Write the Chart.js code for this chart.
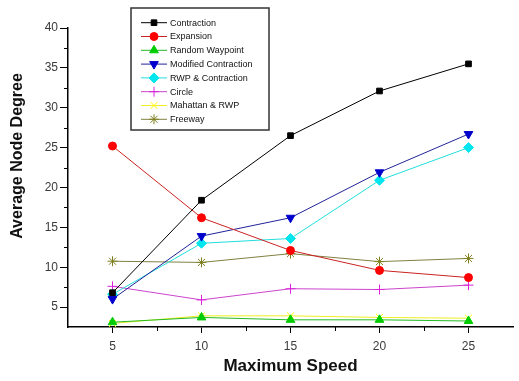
<!DOCTYPE html>
<html><head><meta charset="utf-8">
<script src="https://cdn.jsdelivr.net/npm/chart.js@4"></script>
<style>html,body{margin:0;padding:0;background:#fff}#wrap{width:519px;height:381px}</style>
</head><body><div id="wrap"><canvas id="c" width="519" height="381"></canvas></div>
<script>
const speeds = [5, 10, 15, 20, 25];
const contraction = [6.8, 18.4, 26.5, 32.1, 35.5];
const expansion = [25.2, 16.2, 12.1, 9.6, 8.7];
const randomWaypoint = [3.1, 3.7, 3.4, 3.4, 3.25];
const modifiedContraction = [6.0, 13.9, 16.2, 21.9, 26.7];
const rwpContraction = [6.6, 13.0, 13.6, 20.9, 25.0];
const circle = [7.6, 5.9, 7.3, 7.2, 7.75];
const manhattanRwp = [2.95, 3.9, 3.9, 3.7, 3.6];
const freeway = [10.75, 10.6, 11.7, 10.7, 11.1];
const seriesLabels = ["Contraction","Expansion","Random Waypoint","Modified Contraction","RWP & Contraction","Circle","Mahattan & RWP","Freeway"];

const styles = [
  {c:'#000000', p:'rect', r:4, rot:0},
  {c:'#ff0000', p:'circle', r:4, rot:0},
  {c:'#00cc00', p:'triangle', r:5, rot:0},
  {c:'#0000cc', p:'triangle', r:5, rot:180},
  {c:'#00e5ee', p:'rectRot', r:5, rot:0},
  {c:'#dd22dd', p:'cross', r:5, rot:0},
  {c:'#ffff00', p:'crossRot', r:5, rot:0},
  {c:'#808020', p:'star', r:5, rot:0}
];
const lineColors = ['#000000','#cc2222','#22bb22','#222299','#22dddd','#cc44cc','#eeee22','#808040'];
const allSeries = [contraction, expansion, randomWaypoint, modifiedContraction, rwpContraction, circle, manhattanRwp, freeway];

const datasets = allSeries.map((vals, i) => ({
  label: seriesLabels[i],
  data: speeds.map((s, j) => ({x: s, y: vals[j]})),
  borderColor: lineColors[i],
  backgroundColor: styles[i].c,
  pointBorderColor: styles[i].c,
  pointBackgroundColor: styles[i].c,
  pointStyle: styles[i].p,
  pointRadius: styles[i].r,
  pointRotation: styles[i].rot,
  pointBorderWidth: 1,
  borderWidth: 1,
  tension: 0,
  showLine: true
}));

const isMajor = v => Math.abs(v % 5) < 1e-9;

const legendPlugin = {
  id: 'boxLegend',
  afterDraw(chart) {
    const ctx = chart.ctx;
    const x0 = 131, y0 = 8, w = 138, h = 122;
    ctx.save();
    ctx.fillStyle = '#fff';
    ctx.fillRect(x0, y0, w, h);
    ctx.strokeStyle = '#333';
    ctx.lineWidth = 1.5;
    ctx.strokeRect(x0, y0, w, h);
    ctx.font = '9px "Liberation Sans", Arial, sans-serif';
    ctx.textBaseline = 'middle';
    chart.data.datasets.forEach((ds, i) => {
      const yy = 22.7 + i * 13.8;
      ctx.strokeStyle = ds.borderColor;
      ctx.lineWidth = 1;
      ctx.beginPath(); ctx.moveTo(141, yy); ctx.lineTo(167, yy); ctx.stroke();
      ctx.fillStyle = ds.pointBackgroundColor;
      ctx.strokeStyle = ds.pointBorderColor;
      Chart.helpers.drawPoint(ctx, {pointStyle: ds.pointStyle, radius: ds.pointRadius, rotation: ds.pointRotation, borderWidth: 1}, 154, yy);
      ctx.fillStyle = '#111';
      ctx.fillText(ds.label, 170, yy + 0.5);
    });
    ctx.restore();
  }
};

const minorTickPlugin = {
  id: 'minorTicks',
  afterDraw(chart) {
    const ctx = chart.ctx;
    const xs = chart.scales.x, ys = chart.scales.y;
    ctx.save();
    ctx.strokeStyle = '#000';
    ctx.lineWidth = 1;
    xs.ticks.forEach(t => {
      if (isMajor(t.value) || t.value <= xs.min || t.value >= xs.max) return;
      const px = Math.round(xs.getPixelForValue(t.value)) + 0.5;
      ctx.beginPath(); ctx.moveTo(px, xs.top); ctx.lineTo(px, xs.top + 4); ctx.stroke();
    });
    ys.ticks.forEach(t => {
      if (isMajor(t.value) || t.value <= ys.min) return;
      const py = Math.round(ys.getPixelForValue(t.value)) + 0.5;
      ctx.beginPath(); ctx.moveTo(ys.right, py); ctx.lineTo(ys.right - 4, py); ctx.stroke();
    });
    ctx.restore();
  }
};

const yTitlePlugin = {
  id: 'yTitle',
  afterDraw(chart) {
    const ctx = chart.ctx;
    ctx.save();
    ctx.translate(18, 156);
    ctx.rotate(-Math.PI / 2);
    ctx.font = 'bold 16px "Liberation Sans", Arial, sans-serif';
    ctx.fillStyle = '#111';
    ctx.textAlign = 'center';
    ctx.textBaseline = 'middle';
    ctx.fillText('Average Node Degree', 0, 0);
    ctx.restore();
  }
};

new Chart(document.getElementById('c'), {
  type: 'line',
  data: { datasets },
  options: {
    responsive: false,
    animation: false,
    devicePixelRatio: 1,
    layout: { padding: { left: 0, right: 1, top: 28, bottom: 0 } },
    plugins: { legend: { display: false }, tooltip: { enabled: false } },
    scales: {
      x: {
        type: 'linear', min: 2.5, max: 27.5,
        afterFit(s) { s.height = 54; },
        border: { color: '#000', width: 1.5 },
        grid: { drawOnChartArea: false, tickLength: 6,
          color: c => (c.tick && isMajor(c.tick.value) ? '#000' : 'rgba(0,0,0,0)') },
        ticks: { stepSize: 2.5, padding: 6, color: '#3a3a3a',
          font: { size: 12, family: '"Liberation Sans", Arial, sans-serif' },
          callback: v => (isMajor(v) ? String(v) : '') },
        title: { display: true, text: 'Maximum Speed', color: '#111', padding: { top: 2 },
          font: { size: 17, weight: 'bold', family: '"Liberation Sans", Arial, sans-serif' } }
      },
      y: {
        type: 'linear', min: 2.5, max: 40,
        afterFit(s) { s.width = 68; },
        border: { color: '#000', width: 1.5 },
        grid: { drawOnChartArea: false, tickLength: 8,
          color: c => (c.tick && isMajor(c.tick.value) ? '#000' : 'rgba(0,0,0,0)') },
        ticks: { stepSize: 2.5, padding: 2, color: '#3a3a3a',
          font: { size: 12, family: '"Liberation Sans", Arial, sans-serif' },
          callback: v => (isMajor(v) ? String(v) : '') }
      }
    }
  },
  plugins: [legendPlugin, minorTickPlugin, yTitlePlugin]
});
</script></body></html>
